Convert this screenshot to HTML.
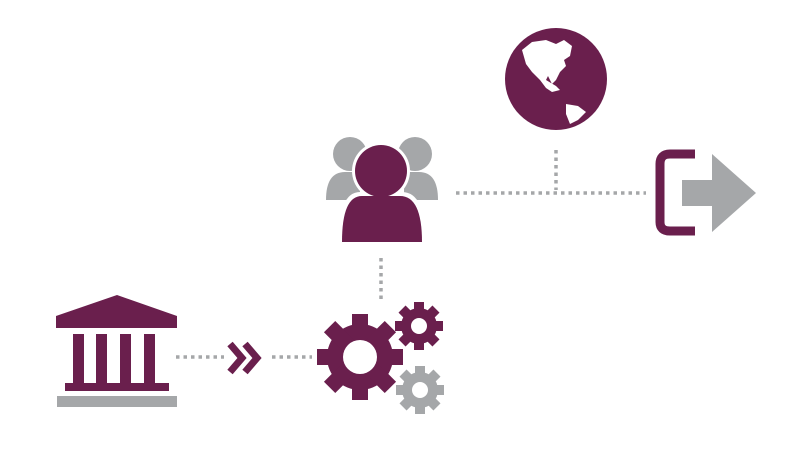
<!DOCTYPE html>
<html><head><style>body{margin:0;background:#fff}svg{display:block}</style></head><body>
<svg width="800" height="450" viewBox="0 0 800 450" xmlns="http://www.w3.org/2000/svg">
<g stroke="#a5a7a9" stroke-width="3.5" stroke-dasharray="3.5 4" fill="none">
<line x1="176" y1="357" x2="224" y2="357"/>
<line x1="272" y1="357" x2="312" y2="357"/>
<line x1="381" y1="258" x2="381" y2="302"/>
<line x1="456" y1="193" x2="646" y2="193"/>
<line x1="556" y1="150" x2="556" y2="190"/>
</g>
<!-- bank -->
<g fill="#6a1f4d">
<path d="M117 295 L177 316 L177 328 L56 328 L56 316 Z"/>
<rect x="73" y="334" width="11" height="50"/>
<rect x="96" y="334" width="11" height="50"/>
<rect x="120" y="334" width="11" height="50"/>
<rect x="144" y="334" width="11" height="50"/>
<rect x="65" y="383" width="104" height="8"/>
</g>
<rect x="57" y="396" width="120" height="11" fill="#a5a7a9"/>
<path d="M230 344 L242 358 L230 372 M245 344 L257 358 L245 372" stroke="#6a1f4d" stroke-width="7" fill="none"/>
<!-- people -->
<g fill="#a5a7a9">
<circle cx="350" cy="154" r="17"/><circle cx="415" cy="154" r="17"/>
<path d="M326 200 Q326 172 345 172 L360 172 L360 200 Z"/>
<path d="M438 200 Q438 172 419 172 L404 172 L404 200 Z"/>
</g>
<circle cx="381" cy="171" r="29" fill="#fff"/>
<path d="M338 245 Q338 192 360 192 L402 192 Q426 192 426 245 Z" fill="#fff"/>
<circle cx="381" cy="171" r="26" fill="#6a1f4d"/>
<path d="M342 242 Q342 196 362 196 L400 196 Q422 196 422 242 Z" fill="#6a1f4d"/>
<!-- gears -->
<g fill="#6a1f4d">
<g transform="translate(360,357)">
<circle r="33"/>
<rect x="-8" y="-43" width="16" height="86"/><rect x="-8" y="-43" width="16" height="86" transform="rotate(45)"/><rect x="-8" y="-43" width="16" height="86" transform="rotate(90)"/><rect x="-8" y="-43" width="16" height="86" transform="rotate(135)"/>
<circle r="17" fill="#fff"/>
</g>
<g transform="translate(419,326)">
<circle r="18"/>
<rect x="-5" y="-24" width="10" height="48"/><rect x="-5" y="-24" width="10" height="48" transform="rotate(45)"/><rect x="-5" y="-24" width="10" height="48" transform="rotate(90)"/><rect x="-5" y="-24" width="10" height="48" transform="rotate(135)"/>
<circle r="8" fill="#fff"/>
</g>
</g>
<g fill="#a5a7a9" transform="translate(420,390)">
<circle r="18"/>
<rect x="-5" y="-24" width="10" height="48"/><rect x="-5" y="-24" width="10" height="48" transform="rotate(45)"/><rect x="-5" y="-24" width="10" height="48" transform="rotate(90)"/><rect x="-5" y="-24" width="10" height="48" transform="rotate(135)"/>
<circle r="8" fill="#fff"/>
</g>
<!-- globe -->
<circle cx="556" cy="79" r="51" fill="#6a1f4d"/>
<path d="M522 50 L532 42 L546 40 L556 44 L564 40 L572 46 L570 56 L564 60 L566 66 L560 72 L556 80 L552 84 L550 80 L548 76 L546 80 L556 86 L560 90 L552 92 L546 88 L540 80 L532 72 L526 64 Z" fill="#fff"/>
<path d="M566 104 L578 106 L586 112 L578 120 L570 124 L566 114 Z" fill="#fff"/>
<!-- exit -->
<path d="M695 154 L670 154 Q660 154 660 164 L660 222 Q660 231 670 231 L695 231" stroke="#6a1f4d" stroke-width="9" fill="none"/>
<path d="M682 180 L712 180 L712 154 L756 193 L712 232 L712 206 L682 206 Z" fill="#a5a7a9"/>
</svg>
</body></html>
